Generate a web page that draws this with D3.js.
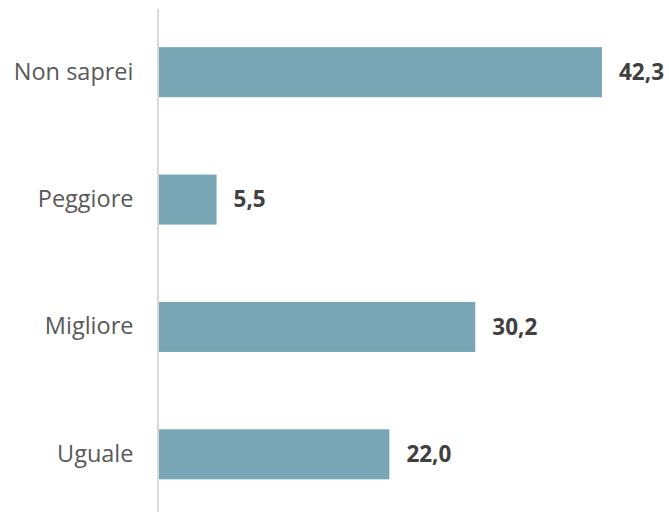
<!DOCTYPE html>
<html>
<head>
<meta charset="utf-8">
<script src="https://cdn.jsdelivr.net/npm/d3@7"></script>
<style>
  html, body { margin: 0; height: 100%; background: #fff; font-family: "Open Sans", sans-serif; overflow: hidden; }
  svg { display: block; overflow: visible; }
  .cat text { fill: #595959; }
  .val { fill: #404040; font-size: 22.5px; font-weight: bold; }
  #axisline { position: fixed; left: 157px; top: 9px; bottom: 0; width: 1.5px; background: #d9d9d9; }
</style>
</head>
<body>
<div id="axisline"></div>
<svg id="chart"></svg>
<script>
  // categories from top to bottom
  let categories = ["Non saprei", "Peggiore", "Migliore", "Uguale"]
  let values = [42.3, 5.5, 30.2, 22.0]

  let width = 669, height = 512
  let margin = { left: 159, top: 8.5 }

  let svg = d3.select("#chart").attr("width", width).attr("height", height)

  let xScale = d3.scaleLinear().domain([0, 42.3]).range([margin.left, 602])
  let yScale = d3.scaleBand().domain(categories).range([margin.top, 518]).paddingInner(0.607).paddingOuter(0.3035)

  svg.selectAll(".bar")
    .data(categories)
    .enter().append("rect")
    .attr("class", "bar")
    .attr("x", xScale(0))
    .attr("y", d => yScale(d))
    .attr("height", yScale.bandwidth())
    .attr("width", (d, i) => xScale(values[i]) - xScale(0))
    .attr("fill", "#7AA7B6")

  // vertical category axis (the line itself is the fixed div, so it reaches the window bottom)
  let axisY = d3.axisLeft(yScale).tickSize(0).tickPadding(25)
  let g = svg.append("g").attr("class", "cat")
    .attr("transform", `translate(${margin.left - 0.5},0)`)
    .call(axisY)
  g.select(".domain").remove()
  g.selectAll("text").style("font-family", "Open Sans").style("font-size", "23.5px")

  let fmt = v => v.toFixed(1).replace(".", ",")
  svg.selectAll(".val")
    .data(categories)
    .enter().append("text")
    .attr("class", "val")
    .attr("x", (d, i) => xScale(values[i]) + 17)
    .attr("y", d => yScale(d) + yScale.bandwidth() / 2)
    .attr("dy", "0.35em")
    .text((d, i) => fmt(values[i]))
</script>
</body>
</html>
